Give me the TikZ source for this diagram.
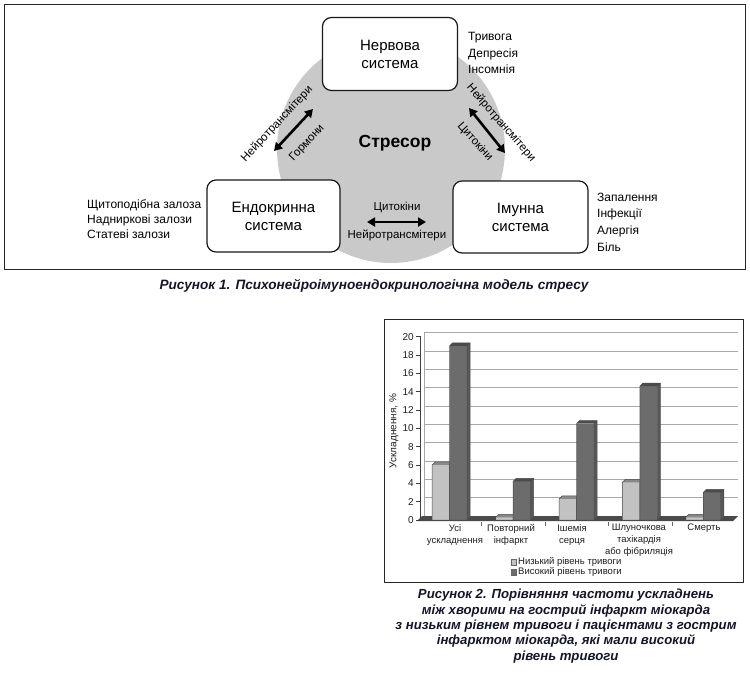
\documentclass[tikz,border=0pt]{standalone}
\usepackage{fontspec}
\setmainfont{Liberation Sans}
\usetikzlibrary{arrows.meta, backgrounds}
\usepackage{xcolor}
\definecolor{stressCol}{HTML}{C9C9C9}
\definecolor{lowCol}{HTML}{C2C2C2}
\definecolor{highCol}{HTML}{6C6C6C}
\definecolor{floorCol}{HTML}{4A4A4A}
\definecolor{gridCol}{HTML}{A8A8A8}
\definecolor{inkCol}{HTML}{1E1E1E}
\definecolor{capCol}{HTML}{15152A}

% one 3D bar: left x, right x, value, colour
\newcommand{\chartbar}[4]{%
  \pgfmathsetmacro{\bt}{520-9.17*#3}%
  \fill[#4] (#1,520) rectangle (#2,\bt);
  \fill[#4!82!black] (#2,520) -- (#2+3,517) -- (#2+3,\bt-3) -- (#2,\bt) -- cycle;
  \fill[#4!70!black] (#1,\bt) -- (#1+3,\bt-3) -- (#2+3,\bt-3) -- (#2,\bt) -- cycle;
  \draw[black!70, line width=0.5pt] (#1,520) -- (#1,\bt) -- (#1+3,\bt-3) -- (#2+3,\bt-3) -- (#2+3,517) -- (#2,520) -- cycle
    (#2,520) -- (#2,\bt) -- (#2+3,\bt-3);
}

\begin{document}
\begin{tikzpicture}[
    x=1pt, y=-1pt,
    system/.style={draw=black!90, line width=1.2pt, rounded corners=9pt, fill=white, align=center, minimum height=72pt, font=\fontsize{15}{18}\selectfont},
    side/.style={anchor=west, align=left, inner sep=0pt, font=\fontsize{12}{16.5}\selectfont},
    link/.style={{Triangle[length=8pt,width=9pt]}-{Triangle[length=8pt,width=9pt]}, line width=2.6pt},
    linklabel/.style={inner sep=0pt, font=\fontsize{11.5}{13}\selectfont},
    caption/.style={align=center, inner sep=0pt, text=capCol, font=\bfseries\itshape\fontsize{13.2}{15.3}\selectfont},
    frame/.style={draw=black!85, line width=1pt},
    chartfont/.style={inner sep=0pt, text=inkCol, font=\fontsize{9.5}{12}\selectfont}
]
\useasboundingbox (0,0) rectangle (750,675);

% =====================================================================
% FIGURE 1: PSYCHONEUROIMMUNOENDOCRINE MODEL
% =====================================================================
\draw[frame] (4,4) rectangle (745,269);
\fill[stressCol] (391,149) circle (114);
\node[inner sep=0pt, font=\bfseries\fontsize{17.5}{19}\selectfont] (STRESS) at (395,143) {Стресор};

\node[system, minimum width=135pt, minimum height=73pt] (NERV) at (390,54) {Нервова\\система};
\node[system, minimum width=133pt] (ENDO) at (273.5,216) {Ендокринна\\система};
\node[system, minimum width=135pt] (IMMU) at (520.5,217) {Імунна\\система};

\node[side] (nervList) at (468,53) {Тривога\\Депресія\\Інсомнія};
\node[side, font=\fontsize{12}{15}\selectfont] (endoList) at (87,219) {Щитоподібна залоза\\Надниркові залози\\Статеві залози};
\node[side, font=\fontsize{12}{16.7}\selectfont] (immuList) at (597,222) {Запалення\\Інфекції\\Алергія\\Біль};

% arrow ends
\coordinate (ne1) at (274,151); \coordinate (ne2) at (313,109);
\coordinate (ni1) at (469,108); \coordinate (ni2) at (505,153);
\coordinate (ei1) at (367,222); \coordinate (ei2) at (426,222);

\draw[link] (ne1) -- (ne2);
\draw[link] (ni1) -- (ni2);
\draw[link] (ei1) -- (ei2);

\node[linklabel, rotate=47] (neOut) at (277,124) {Нейротрансмітери};
\node[linklabel, rotate=47] (neIn) at (307,143) {Гормони};
\node[linklabel, rotate=-49] (niOut) at (501,123) {Нейротрансмітери};
\node[linklabel, rotate=-48] (niIn) at (475,142) {Цитокіни};
\node[linklabel] (eiTop) at (397,207) {Цитокіни};
\node[linklabel] (eiBot) at (397,235) {Нейротрансмітери};

\node[caption, font=\bfseries\itshape\fontsize{13.6}{15.3}\selectfont] (cap1) at (374,286) {Рисунок 1. Психонейроімуноендокринологічна модель стресу};

% =====================================================================
% FIGURE 2: COMPLICATIONS CHART
% =====================================================================
\draw[frame] (384,319) rectangle (743,582);

% back wall and floor
\foreach \v in {0,2,...,20}
    \draw[gridCol, line width=0.6pt] (424,{516-9.17*\v}) -- (738,{516-9.17*\v});
\draw[gridCol, line width=0.6pt] (424,516) -- (424,332);
\fill[floorCol] (417,521) -- (733,521) -- (738,516) -- (422,516) -- cycle;

% y axis
\draw[black!75, line width=0.6pt] (420,521) -- (420,336);
\foreach \v in {0,2,...,20} {
    \draw[black!75, line width=0.6pt] (416,{520-9.17*\v}) -- (420,{520-9.17*\v});
    \node[chartfont, anchor=east, font=\fontsize{10}{12}\selectfont] (yt\v) at (414,{520-9.17*\v}) {\v};
}
\node[chartfont, rotate=90, font=\fontsize{10}{12}\selectfont] (ytitle) at (394,431) {Ускладнення, \%};

% bars
\foreach \i/\lo/\hi in {1/6.0/19.0, 2/0.3/4.2, 3/2.3/10.5, 4/4.1/14.6, 5/0.3/3.0} {
    \pgfmathsetmacro{\c}{418+63.4*(\i-0.5)}
    \chartbar{\c-17.5}{\c}{\lo}{lowCol}
    \chartbar{\c}{\c+17.5}{\hi}{highCol}
}
\foreach \x in {481,545,608,672}
    \draw[black!60, line width=0.5pt] (\x,522) -- (\x,526);

% category labels
\foreach \i/\x/\t in {1/455/{Усі\\ускладнення}, 2/511/{Повторний\\інфаркт}, 3/572/{Ішемія\\серця}, 4/639/{Шлуночкова\\тахікардія\\або фібриляція}, 5/704/{Смерть}}
    \node[chartfont, anchor=north, align=center] (cat\i) at (\x,524) {\t};

% legend
\filldraw[fill=lowCol, draw=black!60, line width=0.4pt] (511,559) rectangle (516,565);
\filldraw[fill=highCol, draw=black!60, line width=0.4pt] (511,569) rectangle (516,575);
\node[chartfont, anchor=west] (legLow) at (518,562) {Низький рівень тривоги};
\node[chartfont, anchor=west] (legHigh) at (518,572) {Високий рівень тривоги};

\node[caption] (cap2) at (566,626) {Рисунок 2. Порівняння частоти ускладнень\\між хворими на гострий інфаркт міокарда\\з низьким рівнем тривоги і пацієнтами з гострим\\інфарктом міокарда, які мали високий\\рівень тривоги};

\end{tikzpicture}
\end{document}
